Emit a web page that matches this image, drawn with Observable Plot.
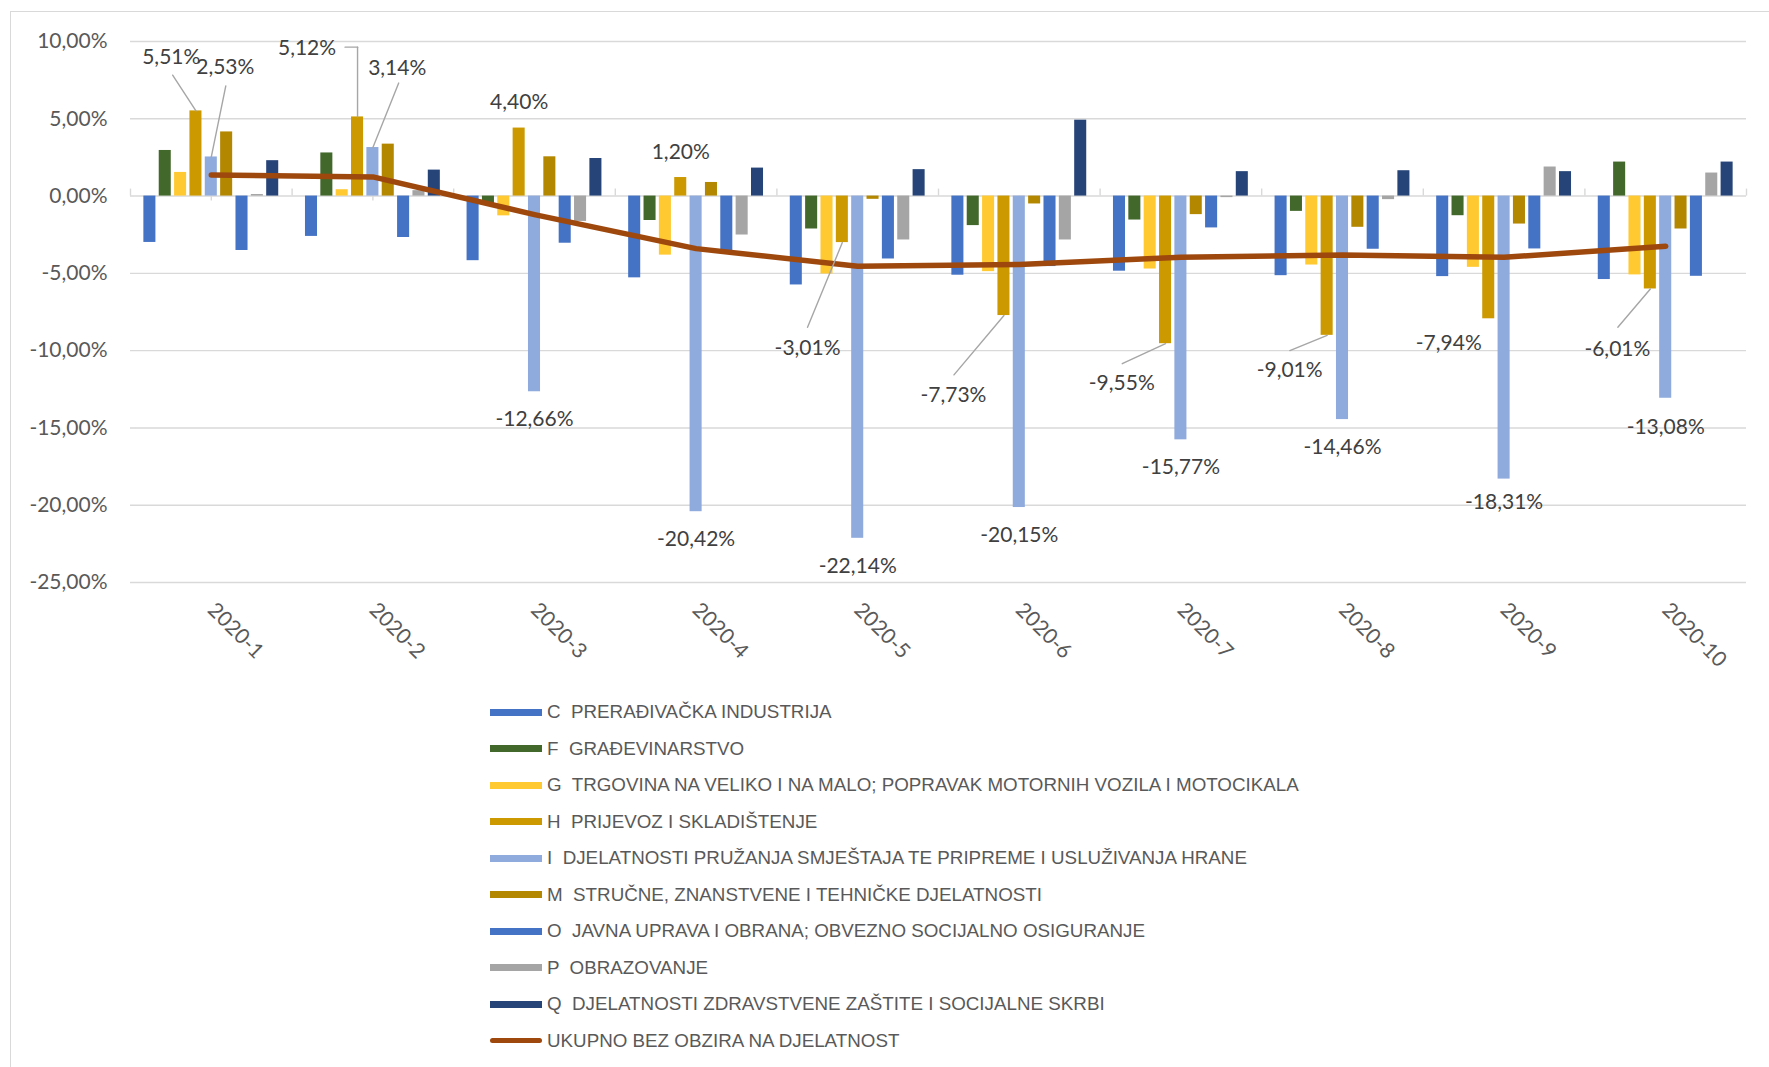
<!DOCTYPE html>
<html>
<head>
<meta charset="utf-8">
<script src="https://cdn.jsdelivr.net/npm/d3@7"></script>
<script src="https://cdn.jsdelivr.net/npm/@observablehq/plot@0.6"></script>
<style>
  html, body { margin: 0; padding: 0; background: #fff; overflow: hidden; }
  #wrap { position: relative; width: 1769px; height: 1067px; }
  #frame { position: absolute; left: 10px; top: 11px; width: 1780px; height: 1080px; border: 1px solid #d9d9d9; box-sizing: border-box; }
  #chart { position: absolute; left: 0; top: 0; }
  #legend { position: absolute; left: 490px; top: 0; font-family: "Liberation Sans", Arial, sans-serif; font-size: 18.8px; color: #595959; }
  .row { position: absolute; left: 0; height: 24px; display: flex; align-items: center; white-space: pre; }
  .sw { width: 52px; margin-right: 5px; }
</style>
</head>
<body>
<div id="wrap">
  <div id="frame"></div>
  <div id="chart"></div>
  <div id="legend"></div>
</div>
<script>
// ---------- data ----------
const categories = ["2020-1", "2020-2", "2020-3", "2020-4", "2020-5", "2020-6", "2020-7", "2020-8", "2020-9", "2020-10"];
const seriesCodes = ["C", "F", "G", "H", "I", "M", "O", "P", "Q"];
const seriesNames = [
  "C  PRERAĐIVAČKA INDUSTRIJA",
  "F  GRAĐEVINARSTVO",
  "G  TRGOVINA NA VELIKO I NA MALO; POPRAVAK MOTORNIH VOZILA I MOTOCIKALA",
  "H  PRIJEVOZ I SKLADIŠTENJE",
  "I  DJELATNOSTI PRUŽANJA SMJEŠTAJA TE PRIPREME I USLUŽIVANJA HRANE",
  "M  STRUČNE, ZNANSTVENE I TEHNIČKE DJELATNOSTI",
  "O  JAVNA UPRAVA I OBRANA; OBVEZNO SOCIJALNO OSIGURANJE",
  "P  OBRAZOVANJE",
  "Q  DJELATNOSTI ZDRAVSTVENE ZAŠTITE I SOCIJALNE SKRBI"
];
const totalName = "UKUPNO BEZ OBZIRA NA DJELATNOST";

const valuesC = [-3.00, -2.61, -4.18, -5.29, -5.75, -5.12, -4.86, -5.15, -5.21, -5.40];
const valuesF = [2.95, 2.79, -0.55, -1.58, -2.13, -1.91, -1.55, -0.99, -1.27, 2.20];
const valuesG = [1.53, 0.41, -1.28, -3.82, -5.04, -4.89, -4.72, -4.46, -4.61, -5.10];
const valuesH = [5.51, 5.12, 4.40, 1.20, -3.01, -7.73, -9.55, -9.01, -7.94, -6.01];
const valuesI = [2.53, 3.14, -12.66, -20.42, -22.14, -20.15, -15.77, -14.46, -18.31, -13.08];
const valuesM = [4.15, 3.36, 2.54, 0.88, -0.21, -0.51, -1.20, -2.02, -1.81, -2.13];
const valuesO = [-3.52, -2.68, -3.05, -3.52, -4.07, -4.56, -2.06, -3.44, -3.42, -5.19];
const valuesP = [0.10, 0.35, -1.64, -2.52, -2.84, -2.84, -0.10, -0.23, 1.88, 1.49];
const valuesQ = [2.29, 1.68, 2.43, 1.81, 1.71, 4.91, 1.58, 1.64, 1.58, 2.20];
const valuesTotal = [1.36, 1.24, -1.20, -3.40, -4.54, -4.43, -3.96, -3.81, -3.96, -3.25];

const yTicks = [-25, -20, -15, -10, -5, 0, 5, 10];

// ---------- styles ----------
const seriesColors = ["#4472C4", "#43682B", "#FFC931", "#CC9A00", "#8FAADC", "#B38700", "#4472C4", "#A5A5A5", "#264478"];
const totalColor = "#9E480E";
const gridColor = "#d9d9d9";
const STEP = 0.095;   // distance between bars inside a group (category units)
const BAR = 0.0745;   // bar width (category units)

// data labels: which bar, pixel offset of the label, optional leader line end (pixels)
const labelSpecs = [
  {code: "H", cat: 0, dx: -24.7, dy: -53.3, leader: [-23.3, -35.7]},
  {code: "I", cat: 0, dx: 14, dy: -89.6, leader: [14.5, -71]},
  {code: "H", cat: 1, dx: -50.5, dy: -68.5, elbow: [-69.8, 12.5]},
  {code: "I", cat: 1, dx: 24.3, dy: -79.5, leader: [25.8, -64.5]},
  {code: "H", cat: 2, dx: 0, dy: -25.7},
  {code: "I", cat: 2, dx: 0, dy: 28},
  {code: "H", cat: 3, dx: 0, dy: -25.7},
  {code: "I", cat: 3, dx: 0, dy: 28},
  {code: "H", cat: 4, dx: -34.8, dy: 106, leader: [-34.8, 84.7]},
  {code: "I", cat: 4, dx: 0, dy: 28},
  {code: "H", cat: 5, dx: -50.5, dy: 80, leader: [-50, 59.3]},
  {code: "I", cat: 5, dx: 0, dy: 28},
  {code: "H", cat: 6, dx: -43.8, dy: 39.7, leader: [-43.3, 20]},
  {code: "I", cat: 6, dx: 0, dy: 27},
  {code: "H", cat: 7, dx: -37.5, dy: 35.2, leader: [-37.3, 15.2]},
  {code: "I", cat: 7, dx: 0, dy: 28},
  {code: "H", cat: 8, dx: -40, dy: 24.5},
  {code: "I", cat: 8, dx: 0, dy: 23},
  {code: "H", cat: 9, dx: -33, dy: 60, leader: [-32.5, 38.3]},
  {code: "I", cat: 9, dx: 0, dy: 29}
];

// ---------- build ----------
const seriesValues = [valuesC, valuesF, valuesG, valuesH, valuesI, valuesM, valuesO, valuesP, valuesQ];
const rows = [];
seriesValues.forEach((vals, s) => vals.forEach((v, i) => rows.push({cat: i, s, code: seriesCodes[s], value: v})));
const totalRows = valuesTotal.map((v, i) => ({cat: i, value: v}));
const fmt = v => v.toFixed(2).replace(".", ",") + "%";
const barX = d => d.cat + (d.s - 4) * STEP;

const lineShape = {draw(context, l) { context.moveTo(0, 0); context.lineTo(0, -l); }};

const labelMarks = [];
for (const spec of labelSpecs) {
  const s = seriesCodes.indexOf(spec.code);
  const row = rows.find(r => r.s === s && r.cat === spec.cat);
  if (spec.leader) {
    const [lx, ly] = spec.leader;
    labelMarks.push(Plot.vector([row], {
      x: barX, y: "value", anchor: "start",
      length: Math.hypot(lx, ly), rotate: Math.atan2(lx, -ly) * 180 / Math.PI,
      shape: lineShape, stroke: "#a6a6a6", strokeWidth: 1.4
    }));
  }
  if (spec.elbow) {
    const [up, left] = spec.elbow;
    labelMarks.push(Plot.vector([row], {x: barX, y: "value", anchor: "start", length: -up, rotate: 0, shape: lineShape, stroke: "#a6a6a6", strokeWidth: 1.4}));
    labelMarks.push(Plot.vector([row], {x: barX, y: "value", anchor: "start", dy: up, length: left, rotate: -90, shape: lineShape, stroke: "#a6a6a6", strokeWidth: 1.4}));
  }
  labelMarks.push(Plot.text([row], {
    x: barX, y: "value", text: d => fmt(d.value), dx: spec.dx, dy: spec.dy,
    fill: "#404040", fontSize: 21, textAnchor: "middle", lineAnchor: "middle"
  }));
}

const boundaries = d3.range(-0.5, categories.length, 1);
const centers = d3.range(0, categories.length);

const chart = Plot.plot({
  width: 1769,
  height: 690,
  marginLeft: 130,
  marginRight: 23,
  marginTop: 41,
  marginBottom: 108,
  style: {fontFamily: "Lato, 'Open Sans', sans-serif", background: "transparent", overflow: "visible"},
  x: {type: "linear", domain: [-0.5, categories.length - 0.5]},
  y: {domain: [-25, 10]},
  color: {domain: seriesCodes, range: seriesColors},
  marks: [
    Plot.ruleY(yTicks, {stroke: gridColor, strokeWidth: 1.4}),
    Plot.ruleX(boundaries, {x: d => d, y1: 0, y2: 0, insetTop: -7, stroke: gridColor, strokeWidth: 1.4}),
    Plot.ruleX(centers, {x: d => d, y1: 0, y2: 0, insetBottom: -5, stroke: gridColor, strokeWidth: 1.4}),
    Plot.rectY(rows, {
      x1: d => barX(d) - BAR / 2, x2: d => barX(d) + BAR / 2,
      y1: 0, y2: "value", fill: "code"
    }),
    Plot.line(totalRows, {x: "cat", y: "value", stroke: totalColor, strokeWidth: 5.5, strokeLinecap: "round", strokeLinejoin: "round"}),
    ...labelMarks,
    Plot.axisY(yTicks, {tickFormat: fmt, tickSize: 0, tickPadding: 23, fontSize: 21, fill: "#595959", label: null}),
    Plot.axisX(centers, {tickFormat: i => categories[i], tickRotate: 45, tickSize: 0, tickPadding: 24, fontSize: 21, fill: "#595959", label: null})
  ]
});
document.getElementById("chart").appendChild(chart);

// ---------- legend ----------
const legend = document.getElementById("legend");
const legendItems = seriesNames.map((n, s) => ({name: n, color: seriesColors[s], line: false}))
  .concat([{name: totalName, color: totalColor, line: true}]);
legendItems.forEach((item, k) => {
  const row = document.createElement("div");
  row.className = "row";
  row.style.top = (712 + k * 36.55 - 12) + "px";
  const sw = document.createElement("div");
  sw.className = "sw";
  sw.style.background = item.color;
  sw.style.height = item.line ? "5px" : "7px";
  if (item.line) sw.style.borderRadius = "3px";
  const tx = document.createElement("span");
  tx.textContent = item.name;
  row.appendChild(sw);
  row.appendChild(tx);
  legend.appendChild(row);
});
</script>
</body>
</html>
